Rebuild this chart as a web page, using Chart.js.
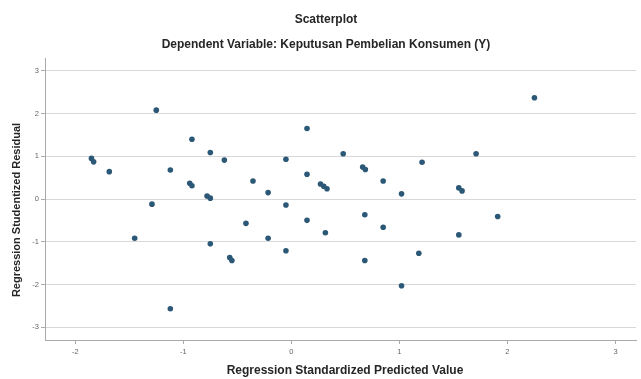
<!DOCTYPE html>
<html>
<head>
<meta charset="utf-8">
<script src="https://cdn.jsdelivr.net/npm/chart.js@4/dist/chart.umd.min.js"></script>
<style>
html,body{margin:0;padding:0;background:#fff;}
#wrap{width:641px;height:379px;}
</style>
</head>
<body>
<div id="wrap"><canvas id="c" width="641" height="379"></canvas></div>
<script>
const titleText = "Scatterplot";
const subtitleText = "Dependent Variable: Keputusan Pembelian Konsumen (Y)";
const xAxisTitle = "Regression Standardized Predicted Value";
const yAxisTitle = "Regression Studentized Residual";

const xTicks = [-2, -1, 0, 1, 2, 3];
const yTicks = [-3, -2, -1, 0, 1, 2, 3];

const predicted = [
  -1.85, -1.83, -1.685, -1.25, -0.92, -0.75, -0.62, -1.12, -0.94, -0.92,
  -0.78, -0.75, -0.355, -1.29, -0.42, -1.45, -0.75, -0.57, -0.55, -1.12,
  0.145, -0.05, 0.48, 0.66, 0.685, 1.21, 0.145, 0.27, 0.30, 0.33,
  0.85, -0.215, 1.02, -0.05, 0.145, 0.68, 0.85, 0.315, -0.215, -0.05,
  1.18, 0.68, 1.02, 2.25, 1.71, 1.55, 1.58, 1.91, 1.55
];
const residual = [
  0.95, 0.87, 0.64, 2.08, 1.40, 1.09, 0.91, 0.68, 0.37, 0.31,
  0.07, 0.02, 0.42, -0.12, -0.57, -0.92, -1.05, -1.37, -1.44, -2.57,
  1.65, 0.93, 1.06, 0.75, 0.69, 0.86, 0.58, 0.35, 0.30, 0.24,
  0.42, 0.15, 0.12, -0.14, -0.50, -0.37, -0.66, -0.79, -0.92, -1.21,
  -1.27, -1.44, -2.03, 2.37, 1.06, 0.26, 0.19, -0.41, -0.84
];

const points = predicted.map((x, i) => ({x: x, y: residual[i]}));

const textPlugin = {
  id: 'texts',
  afterDraw(chart) {
    const ctx = chart.ctx;
    ctx.save();
    ctx.fillStyle = '#262626';
    ctx.textAlign = 'center';
    ctx.textBaseline = 'middle';
    ctx.font = 'bold 12px "Liberation Sans", Arial, sans-serif';
    ctx.fillText(titleText, 326, 20);
    ctx.font = 'bold 12px "Liberation Sans", Arial, sans-serif';
    ctx.fillText(subtitleText, 326, 45);
    ctx.font = 'bold 12px "Liberation Sans", Arial, sans-serif';
    ctx.fillText(xAxisTitle, 345, 371);
    ctx.translate(17, 210);
    ctx.rotate(-Math.PI / 2);
    ctx.font = 'bold 11px "Liberation Sans", Arial, sans-serif';
    ctx.fillText(yAxisTitle, 0, 0);
    ctx.restore();
  }
};

new Chart(document.getElementById('c'), {
  type: 'scatter',
  data: {
    datasets: [{
      data: points,
      backgroundColor: '#2c5877',
      borderColor: '#2c5877',
      pointRadius: 2.8,
      pointHoverRadius: 2.8,
      borderWidth: 0
    }]
  },
  options: {
    responsive: false,
    animation: false,
    layout: {padding: {left: 0, right: 5, top: 58, bottom: 0}},
    plugins: {legend: {display: false}, tooltip: {enabled: false}},
    scales: {
      x: {
        type: 'linear',
        min: -2.28,
        max: 3.19,
        afterBuildTicks: s => { s.ticks = xTicks.map(v => ({value: v})); },
        afterFit: s => { s.height = 39; },
        grid: {drawOnChartArea: false, color: '#aaa', tickLength: 4},
        border: {color: '#aaa', width: 1},
        ticks: {font: {size: 7.5, family: '"Liberation Sans", Arial, sans-serif'}, color: '#666', padding: 3, maxRotation: 0}
      },
      y: {
        type: 'linear',
        min: -3.3,
        max: 3.3,
        afterBuildTicks: s => { s.ticks = yTicks.map(v => ({value: v})); },
        afterFit: s => { s.width = 45; },
        grid: {color: '#d8d8d8', tickLength: 4, tickColor: '#aaa'},
        border: {color: '#aaa', width: 1},
        ticks: {font: {size: 7.5, family: '"Liberation Sans", Arial, sans-serif'}, color: '#666', padding: 2}
      }
    }
  },
  plugins: [textPlugin]
});
</script>
</body>
</html>
